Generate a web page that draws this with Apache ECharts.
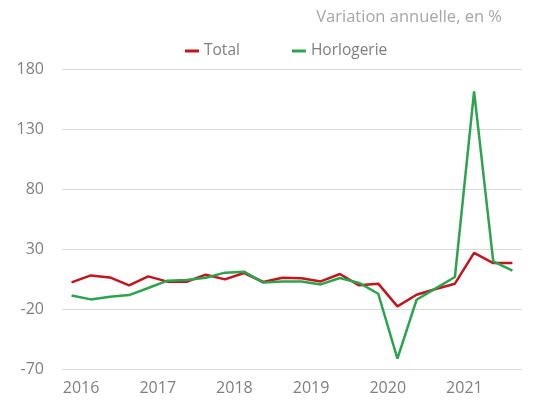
<!DOCTYPE html>
<html>
<head>
<meta charset="utf-8">
<script src="https://cdn.jsdelivr.net/npm/echarts@6/dist/echarts.min.js"></script>
<style>
  html, body { margin: 0; padding: 0; background: #fff; }
  #chart { width: 553px; height: 401px; }
</style>
</head>
<body>
<div id="chart"></div>
<script>
// trimestres 2016T1 .. 2021T4
var quarters = [
    '2016T1', '2016T2', '2016T3', '2016T4',
    '2017T1', '2017T2', '2017T3', '2017T4',
    '2018T1', '2018T2', '2018T3', '2018T4',
    '2019T1', '2019T2', '2019T3', '2019T4',
    '2020T1', '2020T2', '2020T3', '2020T4',
    '2021T1', '2021T2', '2021T3', '2021T4'
];
var total = [2.2, 8.0, 6.3, -0.3, 7.2, 2.8, 2.7, 8.6, 4.7, 10.0, 2.5, 6.1,
    5.7, 3.0, 9.2, -0.3, 1.1, -17.8, -8.1, -3.3, 1.1, 26.7, 18.3, 18.3];
var horlogerie = [-8.7, -12.0, -9.8, -8.4, -2.5, 3.6, 4.2, 6.1, 10.3, 11.1, 2.0, 3.0,
    3.0, 0.5, 5.8, 1.7, -7.3, -61.4, -12.3, -2.8, 6.7, 161.3, 19.7, 11.9];

var font = "'Open Sans', sans-serif";

var myChart = echarts.init(document.getElementById('chart'));
var option = {
    animation: false,
    title: {
        text: 'Variation annuelle, en %',
        right: 46,
        top: 4,
        textStyle: {
            color: '#a6a6a6',
            fontSize: 16.5,
            fontWeight: 'normal',
            fontFamily: font
        }
    },
    legend: {
        top: 38,
        left: 180,
        itemGap: 52,
        itemWidth: 14,
        itemHeight: 3,
        icon: 'rect',
        data: ['Total', 'Horlogerie'],
        textStyle: {
            color: '#7f7f7f',
            fontSize: 15.5,
            fontFamily: font
        }
    },
    grid: {
        left: 62,
        right: 31,
        top: 69,
        bottom: 32
    },
    xAxis: {
        type: 'category',
        data: quarters,
        boundaryGap: true,
        axisLine: { show: false },
        axisTick: { show: false },
        axisLabel: {
            interval: 3,
            color: '#7f7f7f',
            fontSize: 16,
            fontFamily: font,
            margin: 11,
            padding: [0, 0, 0, 19],
            formatter: function (v) { return v.slice(0, 4); }
        }
    },
    yAxis: {
        type: 'value',
        min: -70,
        max: 180,
        interval: 50,
        axisLine: { show: false },
        axisTick: { show: false },
        axisLabel: {
            color: '#7f7f7f',
            fontSize: 16,
            fontFamily: font,
            margin: 18
        },
        splitLine: { lineStyle: { color: '#d9d9d9', width: 1 } }
    },
    series: [
        {
            name: 'Total',
            type: 'line',
            data: total,
            symbol: 'none',
            lineStyle: { color: '#c0161e', width: 2.5 },
            itemStyle: { color: '#c0161e' }
        },
        {
            name: 'Horlogerie',
            type: 'line',
            data: horlogerie,
            symbol: 'none',
            lineStyle: { color: '#2ca44e', width: 2.5 },
            itemStyle: { color: '#2ca44e' }
        }
    ]
};
myChart.setOption(option);
window.addEventListener("resize", function () {
    myChart.resize();
});
</script>
</body>
</html>
